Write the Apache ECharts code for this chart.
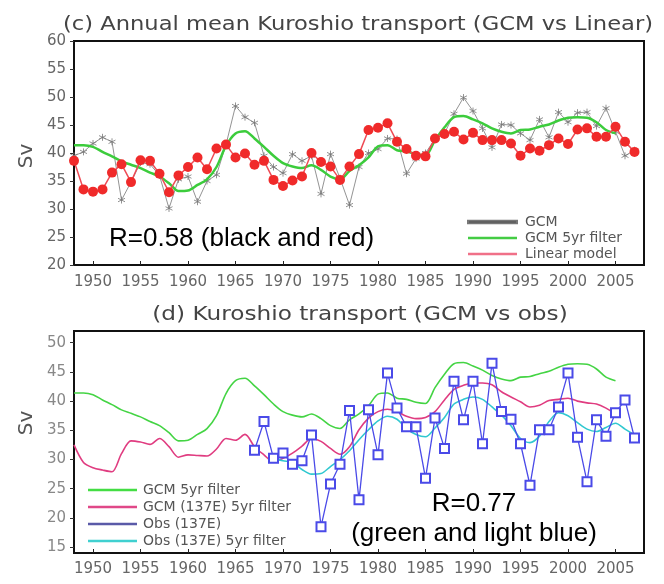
<!DOCTYPE html>
<html>
<head>
<meta charset="utf-8">
<script src="https://cdn.jsdelivr.net/npm/echarts@6/dist/echarts.min.js"></script>
<style>
html, body { margin: 0; padding: 0; background: #fff; }
#chart { width: 664px; height: 584px; }
</style>
</head>
<body>
<div id="chart"></div>
<script>
// years 1948-2007
var years = [1948, 1949, 1950, 1951, 1952, 1953, 1954, 1955, 1956, 1957,
             1958, 1959, 1960, 1961, 1962, 1963, 1964, 1965, 1966, 1967,
             1968, 1969, 1970, 1971, 1972, 1973, 1974, 1975, 1976, 1977,
             1978, 1979, 1980, 1981, 1982, 1983, 1984, 1985, 1986, 1987,
             1988, 1989, 1990, 1991, 1992, 1993, 1994, 1995, 1996, 1997,
             1998, 1999, 2000, 2001, 2002, 2003, 2004, 2005, 2006, 2007];

var xTicks = [1950, 1955, 1960, 1965, 1970, 1975, 1980, 1985, 1990, 1995, 2000, 2005];
var yTicksBottom = [15, 20, 25, 30, 35, 40, 45, 50];

// (c) GCM annual, from 1948
var gcmAnnual = [39.5, 40.2, 41.7, 42.8, 42.0, 31.6, 34.8, 38.3, 38.0, 36.0,
                 30.1, 35.3, 35.8, 31.3, 35.0, 36.1, 41.5, 48.4, 46.4, 45.4,
                 39.5, 37.5, 36.4, 39.8, 38.6, 39.5, 32.7, 39.8, 35.5, 30.7,
                 37.5, 40.0, 40.7, 42.6, 42.5, 36.3, 39.0, 40.0, 42.5, 43.5,
                 47.0, 49.9, 47.5, 44.4, 41.0, 45.1, 45.0, 43.5, 42.3, 46.0,
                 42.8, 47.3, 45.5, 47.2, 47.3, 44.8, 48.0, 43.8, 39.5, 40.5];

// GCM 5yr filter, 1948-2005
var gcmFilter = [41.4, 41.4, 41.1, 40.2, 39.4, 38.5, 37.9, 37.3, 36.5, 35.8,
                 34.6, 33.2, 33.3, 34.3, 35.3, 37.5, 41.3, 43.5, 43.9, 42.6,
                 41.1, 39.5, 38.2, 37.6, 37.3, 37.8, 37.0, 35.8, 35.3, 36.8,
                 37.8, 39.2, 41.2, 41.4, 40.5, 40.3, 39.8, 39.6, 42.3, 44.6,
                 46.4, 46.6, 46.0, 45.3, 44.4, 43.8, 43.5, 44.1, 44.2, 44.7,
                 45.1, 45.8, 46.3, 46.4, 46.3, 45.5, 44.1, 43.5];

// Linear model, 1948-2007
var linearModel = [38.6, 33.5, 33.1, 33.5, 36.5, 38.0, 34.8, 38.7, 38.6, 36.3,
                   33.0, 36.0, 37.5, 39.2, 37.1, 40.8, 41.5, 39.2, 39.9, 37.9,
                   38.6, 35.2, 34.1, 35.1, 35.8, 40.0, 38.4, 37.6, 35.2, 37.6,
                   39.8, 44.1, 44.5, 45.3, 42.0, 40.7, 39.5, 39.4, 42.6, 43.4,
                   43.8, 42.4, 43.6, 42.3, 42.3, 42.3, 41.7, 39.5, 40.8, 40.4,
                   41.4, 42.6, 41.6, 44.2, 44.4, 42.9, 42.9, 44.7, 42.0, 40.2];

// (d) GCM (137E) 5yr filter, 1948-2005
var gcm137Filter = [32.5, 29.5, 28.6, 28.2, 27.9, 31.0, 33.2, 33.0, 32.6, 33.6,
                    32.2, 30.4, 30.8, 30.7, 30.6, 31.8, 33.6, 33.3, 34.3, 32.2,
                    30.8, 29.6, 30.2, 31.1, 32.3, 33.6, 33.1, 31.9, 30.9, 32.2,
                    35.1, 37.1, 38.2, 38.6, 38.2, 37.4, 37.0, 37.2, 38.2, 40.2,
                    42.0, 42.7, 43.1, 43.1, 42.8, 41.6, 40.7, 39.9, 39.0, 39.3,
                    40.1, 40.3, 40.5, 40.0, 39.7, 39.5, 38.8, 37.8];

// Obs (137E), 1967-2007
var obs137 = [31.6, 36.5, 30.2, 31.1, 29.2, 29.8, 34.2, 18.5, 25.8, 29.2,
              38.4, 23.1, 38.5, 30.8, 44.8, 38.8, 35.6, 35.6, 26.8, 37.1,
              31.9, 43.4, 36.8, 43.4, 32.7, 46.5, 38.2, 36.9, 32.7, 25.6,
              35.1, 35.1, 39.0, 44.8, 33.8, 26.2, 36.8, 34.0, 38.0, 40.2,
              33.7];

// Obs (137E) 5yr filter, 1969-2007
var obs137Filter = [30.2, 29.8, 29.5, 28.3, 27.5, 27.6, 28.8, 30.0, 31.5,
                    33.4, 35.1, 36.6, 37.4, 36.9, 35.3, 34.3, 33.9, 35.4, 37.2,
                    39.5, 40.3, 40.7, 40.3, 39.0, 37.6, 35.8, 33.6, 32.9, 34.0,
                    36.5, 38.0, 37.5, 36.3, 35.2, 34.8, 35.5, 36.2, 35.2, 34.2];

function pairs(firstYear, values) {
    var start = years.indexOf(firstYear);
    return values.map(function (v, i) { return [years[start + i], v]; });
}

var labelFont = 'DejaVu Sans';
var starPath = 'path://M5,0L5,10M0.7,2.5L9.3,7.5M0.7,7.5L9.3,2.5';

function xAxisFor(gi, margin) {
    return {
        type: 'value', gridIndex: gi, min: 1948, max: 2008,
        axisLine: { show: false },
        splitLine: { show: false },
        axisTick: { show: true, inside: true, length: 4, customValues: xTicks,
                    lineStyle: { color: '#222', width: 1 } },
        axisLabel: { customValues: xTicks, margin: margin, color: '#666',
                     fontSize: 15, fontFamily: labelFont,
                     formatter: function (v) { return String(v); } }
    };
}

var chart = echarts.init(document.getElementById('chart'));
chart.setOption({
    animation: false,
    backgroundColor: '#fff',
    grid: [
        { left: 74, right: 20, top: 41, height: 224, show: true,
          borderColor: '#111', borderWidth: 2, backgroundColor: 'transparent' },
        { left: 74, right: 20, top: 331, height: 222, show: true,
          borderColor: '#111', borderWidth: 2, backgroundColor: 'transparent' }
    ],
    xAxis: [xAxisFor(0, 10), xAxisFor(1, 9)],
    yAxis: [
        { type: 'value', gridIndex: 0, min: 20, max: 60, interval: 5,
          axisLine: { show: false }, splitLine: { show: false },
          axisTick: { show: true, inside: false, length: 4, lineStyle: { color: '#333' } },
          axisLabel: { margin: 8, color: '#666', fontSize: 15, fontFamily: labelFont } },
        { type: 'value', gridIndex: 1, min: 14, max: 52,
          axisLine: { show: false }, splitLine: { show: false },
          axisTick: { show: true, inside: false, length: 4, customValues: yTicksBottom,
                      lineStyle: { color: '#333' } },
          axisLabel: { customValues: yTicksBottom, margin: 8, color: '#888',
                       fontSize: 15, fontFamily: labelFont } }
    ],
    legend: [
        { orient: 'vertical', left: 462, top: 210, itemWidth: 49, itemHeight: 2.5,
          itemGap: 2, icon: 'rect', selectedMode: false,
          textStyle: { fontFamily: labelFont, fontSize: 14, color: '#555', padding: [0, 0, 0, 3] },
          data: [
              { name: 'GCM', itemStyle: { color: '#222' } },
              { name: 'GCM 5yr filter', itemStyle: { color: '#44cc44' } },
              { name: 'Linear model', itemStyle: { color: '#f07088' } }
          ] },
        { orient: 'vertical', left: 83, top: 478, itemWidth: 49, itemHeight: 2.5,
          itemGap: 3, icon: 'rect', selectedMode: false,
          textStyle: { fontFamily: labelFont, fontSize: 14, color: '#555', padding: [0, 0, 0, 1] },
          data: [
              { name: 'GCM 5yr filter', itemStyle: { color: '#44dd44' } },
              { name: 'GCM (137E) 5yr filter', itemStyle: { color: '#e04888' } },
              { name: 'Obs (137E)', itemStyle: { color: '#5a5aa8' } },
              { name: 'Obs (137E) 5yr filter', itemStyle: { color: '#40d0d0' } }
          ] }
    ],
    graphic: [
        { type: 'text', x: 358, y: 25, scaleX: 1.13,
          style: { text: '(c) Annual mean Kuroshio transport (GCM vs Linear)',
                   font: '20px "DejaVu Sans"', fill: '#444', align: 'center', verticalAlign: 'middle' } },
        { type: 'text', x: 360, y: 315, scaleX: 1.16,
          style: { text: '(d) Kuroshio transport (GCM vs obs)',
                   font: '20px "DejaVu Sans"', fill: '#444', align: 'center', verticalAlign: 'middle' } },
        { type: 'text', x: 27, y: 156, rotation: Math.PI / 2,
          style: { text: 'Sv', font: '20px "DejaVu Sans"', fill: '#555', align: 'center', verticalAlign: 'middle' } },
        { type: 'text', x: 27, y: 423, rotation: Math.PI / 2,
          style: { text: 'Sv', font: '20px "DejaVu Sans"', fill: '#555', align: 'center', verticalAlign: 'middle' } },
        { type: 'text', x: 109, y: 239, z: 100,
          style: { text: 'R=0.58 (black and red)', font: '26px "Liberation Sans"', fill: '#000',
                   align: 'left', verticalAlign: 'middle' } },
        { type: 'text', x: 474, y: 504, z: 100,
          style: { text: 'R=0.77', font: '26px "Liberation Sans"', fill: '#000',
                   align: 'center', verticalAlign: 'middle' } },
        { type: 'text', x: 474, y: 534, z: 100,
          style: { text: '(green and light blue)', font: '26px "Liberation Sans"', fill: '#000',
                   align: 'center', verticalAlign: 'middle' } }
    ],
    series: [
        { name: 'GCM', type: 'line', xAxisIndex: 0, yAxisIndex: 0, z: 1,
          data: pairs(1948, gcmAnnual),
          symbol: starPath, symbolSize: 7,
          lineStyle: { color: '#777', width: 0.8 },
          itemStyle: { color: '#777', borderColor: '#777', borderWidth: 0.8 } },
        { name: 'GCM 5yr filter', type: 'line', xAxisIndex: 0, yAxisIndex: 0, z: 2,
          data: pairs(1948, gcmFilter), showSymbol: false, smooth: 0.3,
          lineStyle: { color: '#3ccc3c', width: 2.5 },
          itemStyle: { color: '#3ccc3c' } },
        { name: 'Linear model', type: 'line', xAxisIndex: 0, yAxisIndex: 0, z: 3,
          data: pairs(1948, linearModel),
          symbol: 'circle', symbolSize: 10,
          lineStyle: { color: '#ee4b55', width: 1.5 },
          itemStyle: { color: '#f02a2a' } },

        { name: 'GCM 5yr filter', type: 'line', xAxisIndex: 1, yAxisIndex: 1, z: 1,
          data: pairs(1948, gcmFilter), showSymbol: false, smooth: 0.3,
          lineStyle: { color: '#44d444', width: 1.6 },
          itemStyle: { color: '#44d444' } },
        { name: 'GCM (137E) 5yr filter', type: 'line', xAxisIndex: 1, yAxisIndex: 1, z: 2,
          data: pairs(1948, gcm137Filter), showSymbol: false, smooth: 0.3,
          lineStyle: { color: '#e03c80', width: 1.6 },
          itemStyle: { color: '#e03c80' } },
        { name: 'Obs (137E) 5yr filter', type: 'line', xAxisIndex: 1, yAxisIndex: 1, z: 3,
          data: pairs(1969, obs137Filter), showSymbol: false, smooth: 0.3,
          lineStyle: { color: '#30c8d0', width: 1.6 },
          itemStyle: { color: '#30c8d0' } },
        { name: 'Obs (137E)', type: 'line', xAxisIndex: 1, yAxisIndex: 1, z: 4,
          data: pairs(1967, obs137),
          symbol: 'emptyRect', symbolSize: 9,
          lineStyle: { color: '#4a4ae8', width: 1.3 },
          itemStyle: { color: '#4a4ae8', borderWidth: 1.5 } }
    ]
});
</script>
</body>
</html>
